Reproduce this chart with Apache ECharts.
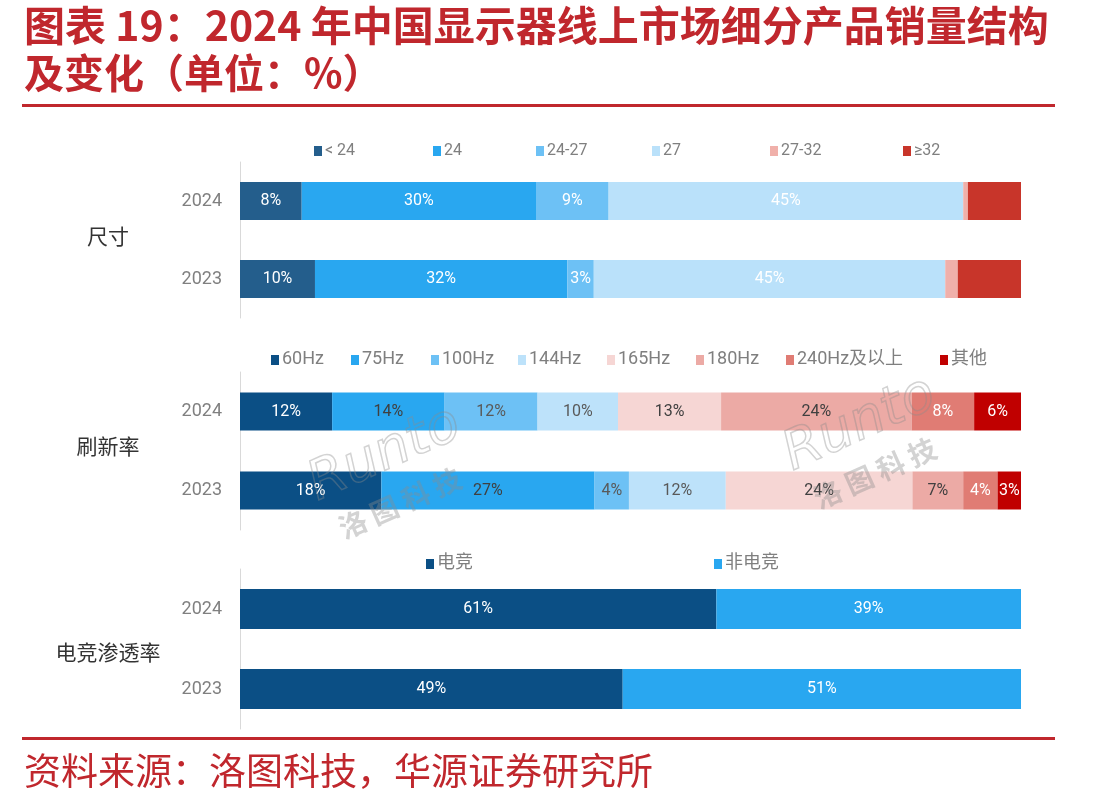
<!DOCTYPE html>
<html>
<head>
<meta charset="utf-8">
<script src="https://cdn.jsdelivr.net/npm/echarts@6/dist/echarts.min.js"></script>
<style>
  html, body { margin: 0; padding: 0; background: #fff; }
  #main { width: 1113px; height: 810px; }
</style>
</head>
<body>
<div id="main"></div>
<script>
// ---- data ----
const years = ['2024', '2023'];

const sizeNames = ['< 24', '24', '24-27', '27', '27-32', '≥32'];
const sizeValues = [
  [7.9, 9.6],
  [30.0, 32.3],
  [9.3, 3.4],
  [45.4, 45.0],
  [0.6, 1.6],
  [6.8, 8.1]
];

const rateNames = ['60Hz', '75Hz', '100Hz', '144Hz', '165Hz', '180Hz', '240Hz及以上', '其他'];
const rateValues = [
  [11.8, 18.1],
  [14.4, 27.3],
  [11.9, 4.4],
  [10.3, 12.4],
  [13.2, 23.9],
  [24.4, 6.5],
  [8.0, 4.4],
  [6.0, 3.0]
];

const gameNames = ['电竞', '非电竞'];
const gameValues = [
  [61, 49],
  [39, 51]
];

// ---- styles ----
const sizeColors = ['#245E8C', '#29A7F0', '#6DC1F5', '#BAE1FA', '#F0B0AA', '#C8352A'];
const sizeLabelColors = ['#fff', '#fff', '#fff', '#fff', null, null];
const rateColors = ['#0B4F85', '#29A7F0', '#6DC1F5', '#BDE2FA', '#F6D6D4', '#ECAAA5', '#E07C74', '#C00000'];
const rateLabelColors = ['#fff', '#404040', '#595959', '#595959', '#404040', '#404040', '#fff', '#fff'];
const gameColors = ['#0B4F85', '#29A7F0'];
const gameLabelColors = ['#fff', '#fff'];

// legend icon x positions for each block
const sizeLegendX = [309, 428, 531, 647, 765, 898];
const rateLegendX = [266, 346, 426, 513, 602, 691, 781, 935];
const gameLegendX = [421, 709];

const grids = [
  { left: 240, right: 92, top: 162, height: 156 },
  { left: 240, right: 92, top: 372, height: 158 },
  { left: 240, right: 92, top: 569, height: 160 }
];

const chart = echarts.init(document.getElementById('main'));

const xAxes = grids.map((g, i) => ({
  type: 'value', gridIndex: i, min: 0, max: 100, show: false
}));
const yAxes = grids.map((g, i) => ({
  type: 'category', gridIndex: i, data: years, inverse: true,
  axisLine: { show: true, lineStyle: { color: '#D9D9D9', width: 1 } },
  axisTick: { show: false },
  axisLabel: { color: '#808080', fontSize: 18, margin: 18, fontFamily: 'Roboto, "Noto Sans"' }
}));

const series = [];
const legends = [];
function addBlock(names, values, colors, labelColors, gi, barW, legendX, legendY, legendFont) {
  names.forEach((n, k) => {
    series.push({
      name: n, type: 'bar', stack: 's' + gi, xAxisIndex: gi, yAxisIndex: gi,
      barWidth: barW, data: values[k],
      itemStyle: { color: colors[k] },
      label: {
        show: labelColors[k] !== null,
        position: 'inside',
        color: labelColors[k] || '#fff',
        fontSize: 16,
        fontFamily: 'Roboto, "Noto Sans"',
        formatter: p => Math.round(p.value) + '%'
      }
    });
    legends.push({
      data: [n], left: legendX[k], top: legendY, icon: 'rect',
      itemWidth: 8, itemHeight: 10, itemGap: 0, selectedMode: false,
      textStyle: { color: '#7F7F7F', fontSize: legendFont, padding: [0, 0, 0, -2],
        fontFamily: 'Roboto, "Noto Sans CJK SC"' }
    });
  });
}
addBlock(sizeNames, sizeValues, sizeColors, sizeLabelColors, 0, 38, sizeLegendX, 138, 16);
addBlock(rateNames, rateValues, rateColors, rateLabelColors, 1, 38, rateLegendX, 346, 18);
addBlock(gameNames, gameValues, gameColors, gameLabelColors, 2, 40, gameLegendX, 550, 18);

const red = '#C0272D';
const wm = 'rgba(140,140,140,0.38)';
function watermark(x, y) {
  return [
    { type: 'text', x: x, y: y, rotation: 0.42, z: 100, silent: true,
      style: { text: 'Runto', fill: 'none', stroke: wm, lineWidth: 1.5,
        font: 'italic 54px "DejaVu Sans"', textAlign: 'center', textVerticalAlign: 'middle' } },
    { type: 'text', x: x + 15, y: y + 48, rotation: 0.42, z: 100, silent: true,
      style: { text: '洛 图 科 技', fill: wm,
        font: 'bold 28px "Noto Sans CJK SC"', textAlign: 'center', textVerticalAlign: 'middle' } }
  ];
}

chart.setOption({
  animation: false,
  grid: grids,
  xAxis: xAxes,
  yAxis: yAxes,
  legend: legends,
  series: series,
  graphic: [
    { type: 'text', left: 24, top: 5,
      style: { text: '图表 19：2024 年中国显示器线上市场细分产品销量结构', fill: red,
        font: 'bold 41px "Noto Sans CJK SC"' } },
    { type: 'text', left: 24, top: 53,
      style: { text: '及变化（单位：%）', fill: red, font: 'bold 40px "Noto Sans CJK SC"' } },
    { type: 'rect', shape: { x: 22, y: 104, width: 1033, height: 3 }, style: { fill: red } },
    { type: 'rect', shape: { x: 22, y: 737, width: 1033, height: 3 }, style: { fill: red } },
    { type: 'text', left: 24, top: 752,
      style: { text: '资料来源：洛图科技，华源证券研究所', fill: red, font: '37px "Noto Sans CJK SC"' } },
    { type: 'text', x: 108, y: 236,
      style: { text: '尺寸', fill: '#333', font: '21px "Noto Sans CJK SC"', textAlign: 'center', textVerticalAlign: 'middle' } },
    { type: 'text', x: 108, y: 446,
      style: { text: '刷新率', fill: '#333', font: '21px "Noto Sans CJK SC"', textAlign: 'center', textVerticalAlign: 'middle' } },
    { type: 'text', x: 108, y: 652,
      style: { text: '电竞渗透率', fill: '#333', font: '21px "Noto Sans CJK SC"', textAlign: 'center', textVerticalAlign: 'middle' } }
  ].concat(watermark(385, 455), watermark(860, 425))
});
</script>
</body>
</html>
